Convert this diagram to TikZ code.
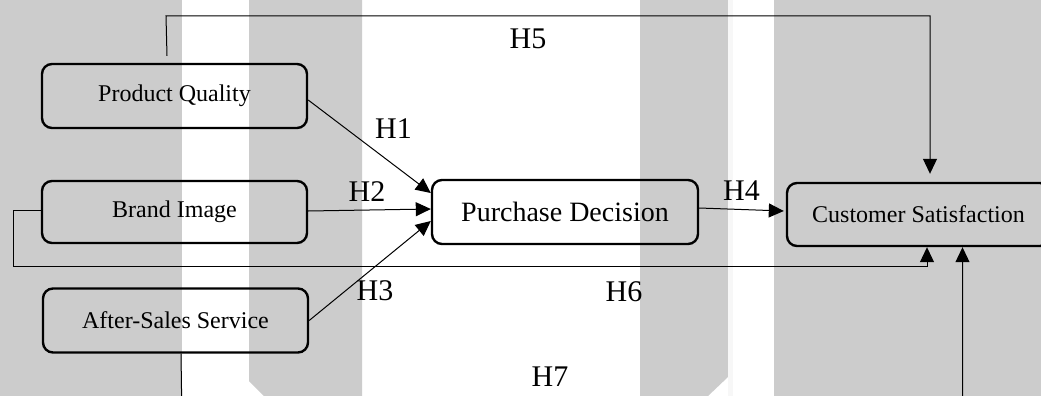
\documentclass[tikz,border=0pt]{standalone}
\usepackage{fontspec}
\setmainfont{Liberation Serif}
\usetikzlibrary{arrows.meta}
\usetikzlibrary{positioning}
\definecolor{band}{HTML}{CCCCCC}

\begin{document}
\begin{tikzpicture}[x=0.5pt, y=-0.5pt,
factor/.style={draw, rounded corners=5pt, line width=1.2pt, inner sep=0pt,
  minimum width=132.5pt, minimum height=32pt, font=\fontsize{12}{14}\selectfont},
link/.style={draw, line width=0.5pt, -{Triangle[length=7.5pt, width=7pt]}},
hyp/.style={inner sep=0pt, font=\fontsize{15}{17}\selectfont}]
\useasboundingbox (0,0) rectangle (1041,396);
\clip (0,0) rectangle (1041,396);
\fill[white] (0,0) rectangle (1041,396);
\fill[band] (0,0) rectangle (182,396);
\fill[band] (249,0) -- (362,0) -- (362,396) -- (264,396) -- (249,381) -- cycle;
\fill[band] (640,0) -- (728,0) -- (728,377) -- (708,396) -- (640,396) -- cycle;
\fill[black!3] (728,0) rectangle (733,396);
\fill[band] (774,0) rectangle (1041,396);

\node[factor] (PQ) at (174.5,96) {Product Quality};
\node[factor, minimum height=31pt] (BI) at (174.5,212) {Brand Image};
\node[factor] (AS) at (175.5,320.5) {After-Sales Service};
\node[factor, minimum width=133pt, font=\fontsize{14}{16}\selectfont] (PD) at (565,212) {Purchase Decision};
\node[factor, minimum width=131.5pt, minimum height=31.5pt] (CS) at (918.5,214.5) {Customer Satisfaction};

\draw[link] ([yshift=-2pt]PQ.east) -- ([yshift=9.5pt]PD.west);
\draw[link] ([yshift=0.5pt]BI.east) -- ([yshift=1.5pt]PD.west);
\draw[link] (AS.east) -- ([yshift=-4.5pt]PD.west);
\draw[link] ([yshift=2pt]PD.east) -- ([xshift=-1pt,yshift=1.75pt]CS.west);
\draw[link] ([xshift=-3.75pt,yshift=3.5pt]PQ.north) -- ++(-1,-40) -| ([xshift=5.75pt,yshift=4pt]CS.north);
\draw[link] ([yshift=1pt]BI.west) -- ++(-27,0) -- ++(0,56) -| ([xshift=4.25pt]CS.south);
\draw[link] ([xshift=2.75pt]AS.south) -- ++(1,70) -| ([xshift=22pt]CS.south);

\node[hyp] (h1) at (393.5,128.5) {H1};
\node[hyp] (h2) at (367,192) {H2};
\node[hyp] (h3) at (375,291) {H3};
\node[hyp] (h4) at (741.5,191) {H4};
\node[hyp] (h5) at (528,39) {H5};
\node[hyp] (h6) at (624,291.5) {H6};
\node[hyp] (h7) at (550,377) {H7};
\end{tikzpicture}
\end{document}
